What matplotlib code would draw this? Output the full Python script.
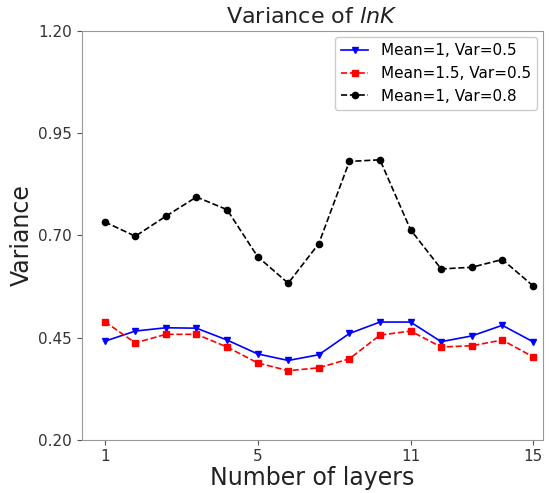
import matplotlib
matplotlib.use("Agg")
import matplotlib.pyplot as plt

layers = list(range(1, 16))
tick_pos = [1, 6, 11, 15]
tick_labels = ["1", "5", "11", "15"]

var_m1_v05 = [0.441, 0.466, 0.474, 0.473, 0.444, 0.410, 0.394, 0.408,
              0.460, 0.488, 0.488, 0.440, 0.454, 0.480, 0.440]
var_m15_v05 = [0.489, 0.437, 0.458, 0.458, 0.427, 0.388, 0.369, 0.376,
               0.398, 0.456, 0.466, 0.427, 0.430, 0.444, 0.403]
var_m1_v08 = [0.733, 0.698, 0.747, 0.794, 0.763, 0.648, 0.583, 0.680,
              0.881, 0.885, 0.714, 0.618, 0.622, 0.641, 0.577]

fig = plt.figure(figsize=(5.49, 4.93), dpi=100)
ax = fig.add_axes([0.149, 0.108, 0.84, 0.829])

ax.plot(layers, var_m1_v05, color="blue", marker="v", markersize=5,
        linewidth=1.2, label="Mean=1, Var=0.5")
ax.plot(layers, var_m15_v05, color="red", marker="s", markersize=4.5,
        linewidth=1.2, linestyle="--", label="Mean=1.5, Var=0.5")
ax.plot(layers, var_m1_v08, color="black", marker="o", markersize=4.5,
        linewidth=1.2, linestyle="--", label="Mean=1, Var=0.8")

ax.set_xlim(0.25, 15.33)
ax.set_ylim(0.20, 1.20)
ax.set_xticks(tick_pos)
ax.set_xticklabels(tick_labels)
ax.set_yticks([0.20, 0.45, 0.70, 0.95, 1.20])
ax.set_yticklabels(["0.20", "0.45", "0.70", "0.95", "1.20"])
ax.tick_params(labelsize=11, colors="#555555", labelcolor="#333333")
for s in ax.spines.values():
    s.set_color("#999999")

ax.set_title("Variance of $lnK$", fontsize=16, color="#222222")
ax.set_xlabel("Number of layers", fontsize=17, color="#222222", labelpad=1)
ax.set_ylabel("Variance", fontsize=17, color="#222222", labelpad=3)
ax.legend(loc="upper right", fontsize=11, handlelength=1.8,
          borderpad=0.4, labelspacing=0.5, borderaxespad=0.4,
          framealpha=1, edgecolor="#cccccc")

fig.savefig("out.png", dpi=100)
